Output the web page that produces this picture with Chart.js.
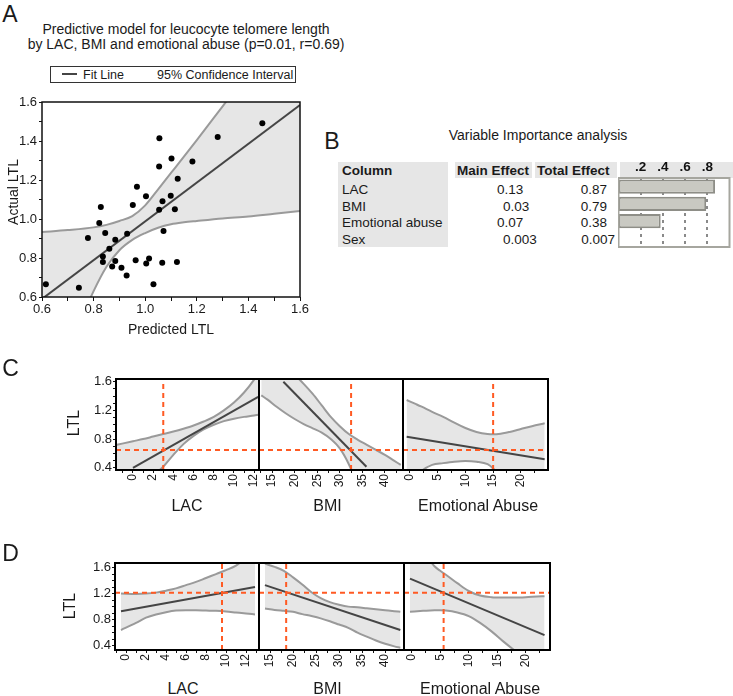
<!DOCTYPE html>
<html>
<head>
<meta charset="utf-8">
<script src="https://cdn.jsdelivr.net/npm/chart.js@4.4.1/dist/chart.umd.min.js"></script>
<style>
body { margin: 0; width: 733px; height: 696px; position: relative; background: #fff; overflow: hidden;
       font-family: "Liberation Sans", Arial, Helvetica, sans-serif; }
canvas { position: absolute; z-index: 1; }
.t { position: absolute; white-space: nowrap; line-height: 1; color: #1a1a1a; z-index: 2; }
.bg { position: absolute; background: #e6e6e6; z-index: 0; }
</style>
</head>
<body>
<script>
// ---- Panel A: predicted vs actual LTL ----
const predicted = [0.615, 0.743, 0.778, 0.822, 0.828, 0.836, 0.836, 0.845, 0.861, 0.872, 0.884, 0.884,
                   0.908, 0.928, 0.930, 0.952, 0.968, 0.963, 1.003, 1.004, 1.015, 1.032, 1.054, 1.055,
                   1.054, 1.067, 1.071, 1.066, 1.102, 1.099, 1.115, 1.126, 1.123, 1.183, 1.281, 1.454];
const actual = [0.665, 0.648, 0.902, 0.979, 1.062, 0.808, 0.780, 0.928, 0.847, 0.757, 0.893, 0.784,
                0.750, 0.710, 0.924, 1.072, 1.166, 0.788, 1.117, 0.772, 0.798, 0.665, 1.269, 1.414,
                1.048, 1.091, 0.938, 0.776, 1.310, 1.119, 1.050, 1.207, 0.780, 1.295, 1.421, 1.491];
const fitX = [0.6, 1.6];
const fitY = [0.59, 1.585];
const bandX = [0.6, 0.7, 0.8, 0.85, 0.9, 0.95, 1.0, 1.05, 1.1, 1.15, 1.2, 1.3, 1.4, 1.5, 1.6];
const bandUpper = [0.933, 0.943, 0.957, 0.97, 0.99, 1.015, 1.07, 1.152, 1.236, 1.32, 1.405, 1.578, 1.75, 1.92, 2.09];
const bandLower = [0.1, 0.33, 0.63, 0.755, 0.84, 0.893, 0.928, 0.955, 0.973, 0.983, 0.99, 1.003, 1.013, 1.027, 1.041];
const aTicks = [0.6, 0.8, 1.0, 1.2, 1.4, 1.6];

// ---- Panel B: variable importance ----
const variables = ['LAC', 'BMI', 'Emotional abuse', 'Sex'];
const mainEffect = ['0.13', '0.03', '0.07', '0.003'];
const totalEffect = [0.87, 0.79, 0.38, 0.007];
const importanceTicks = [0.2, 0.4, 0.6, 0.8];

// ---- Panels C / D: prediction profiler ----
const lacTicks = [0, 2, 4, 6, 8, 10, 12];
const bmiTicks = [15, 20, 25, 30, 35, 40];
const abuseTicks = [0, 5, 10, 15, 20];
const ltlTicks = [0.4, 0.8, 1.2, 1.6];

const cLacX = [-1.6, 0, 1, 2, 3, 4, 5, 6, 7, 8, 9, 10, 11, 12, 12.4];
const cLacUp = [0.72, 0.77, 0.80, 0.835, 0.87, 0.905, 0.945, 0.99, 1.045, 1.11, 1.2, 1.31, 1.45, 1.63, 1.72];
const cLacLo = [-0.1, 0.05, 0.17, 0.29, 0.415, 0.58, 0.73, 0.845, 0.935, 1.0, 1.05, 1.085, 1.11, 1.13, 1.14];
const cLacFitX = [0, 12.4];
const cLacFitY = [0.40, 1.39];

const cBmiX = [12.6, 14, 16, 18, 20, 22, 24, 26, 28, 30, 32, 34, 36, 38, 40, 42, 43.5];
const cBmiUp = [2.3, 2.15, 2.0, 1.85, 1.7, 1.57, 1.43, 1.27, 1.11, 0.98, 0.87, 0.79, 0.72, 0.65, 0.58, 0.5, 0.44];
const cBmiLo = [1.41, 1.35, 1.25, 1.16, 1.08, 1.01, 0.95, 0.89, 0.8, 0.67, 0.45, 0.15, -0.2, -0.5, -0.8, -1.1, -1.3];
const cBmiFitX = [17.5, 35.9];
const cBmiFitY = [1.6, 0.415];

const cAbuseX = [-0.6, 1, 2, 4, 6, 8, 10, 12, 14, 15, 16, 18, 20, 22, 24.3];
const cAbuseUp = [1.345, 1.29, 1.255, 1.18, 1.11, 1.03, 0.955, 0.9, 0.87, 0.866, 0.87, 0.9, 0.94, 0.98, 1.02];
const cAbuseLo = [0.1, 0.27, 0.35, 0.44, 0.465, 0.485, 0.495, 0.485, 0.45, 0.39, 0.3, 0.1, -0.1, -0.3, -0.5];
const cAbuseFitX = [-0.6, 24.3];
const cAbuseFitY = [0.834, 0.52];

const cSettings = [3, 32.5, 15];   // LAC, BMI, emotional abuse
const cPredicted = 0.648;

const dLacX = [-0.5, 1, 2, 3, 4, 5, 6, 7, 8, 9, 10, 11, 12, 12.9];
const dLacUp = [1.2, 1.195, 1.2, 1.215, 1.245, 1.28, 1.33, 1.38, 1.44, 1.5, 1.56, 1.63, 1.75, 1.87];
const dLacLo = [0.64, 0.75, 0.83, 0.88, 0.915, 0.94, 0.946, 0.945, 0.94, 0.935, 0.925, 0.91, 0.895, 0.88];
const dLacFitX = [-0.5, 12.9];
const dLacFitY = [0.93, 1.30];

const dBmiX = [13.9, 16, 18, 20, 22, 24, 26, 28, 30, 32, 34, 36, 38, 40, 42, 43.3];
const dBmiUp = [1.66, 1.61, 1.55, 1.45, 1.34, 1.22, 1.13, 1.07, 1.03, 1.0, 0.99, 0.975, 0.96, 0.945, 0.93, 0.92];
const dBmiLo = [0.97, 0.95, 0.935, 0.92, 0.885, 0.855, 0.82, 0.775, 0.725, 0.675, 0.6, 0.54, 0.48, 0.43, 0.39, 0.37];
const dBmiFitX = [13.9, 43.3];
const dBmiFitY = [1.33, 0.64];

const dAbuseX = [-0.3, 2, 4, 5, 6, 8, 10, 12, 14, 16, 18, 20, 22, 23.3];
const dAbuseUp = [2.1, 1.85, 1.62, 1.55, 1.49, 1.36, 1.24, 1.17, 1.145, 1.14, 1.14, 1.145, 1.155, 1.16];
const dAbuseLo = [0.92, 0.935, 0.945, 0.945, 0.94, 0.91, 0.855, 0.75, 0.62, 0.47, 0.33, 0.2, 0.07, 0.0];
const dAbuseFitX = [-0.3, 23.3];
const dAbuseFitY = [1.43, 0.563];

const dSettings = [9.6, 18.5, 5.6];
const dPredicted = 1.215;

// ---------------------------------------------------------------
Chart.defaults.font.family = '"Liberation Sans", Arial, Helvetica, sans-serif';
Chart.defaults.color = '#1a1a1a';

const ORANGE = '#ff5a23';
const BAND = '#e6e6e6';
const CURVE = '#9a9a9a';
const FIT = '#454545';

const framePlugin = {
    id: 'frame',
    afterDatasetsDraw(chart, args, opts) {
        if (!opts.color) return;
        const { left, top, right, bottom } = chart.chartArea;
        const ctx = chart.ctx;
        ctx.save();
        ctx.strokeStyle = opts.color;
        ctx.lineWidth = opts.width;
        ctx.strokeRect(left, top, right - left, bottom - top);
        ctx.restore();
    }
};

function pts(xs, ys) {
    return xs.map((x, i) => ({ x: x, y: ys[i] }));
}

function stepTicks(min, max, step) {
    const out = [];
    for (let k = Math.ceil(min / step - 1e-9); k * step <= max + 1e-9; k++) {
        out.push(Math.round(k * step * 1000) / 1000);
    }
    return out;
}

function mkCanvas(left, top, w, h) {
    const c = document.createElement('canvas');
    c.width = w;
    c.height = h;
    c.style.left = left + 'px';
    c.style.top = top + 'px';
    document.body.appendChild(c);
    return c.getContext('2d');
}

function text(str, x, y, o = {}) {
    const d = document.createElement('div');
    d.className = 't';
    d.textContent = str;
    d.style.left = x + 'px';
    d.style.top = y + 'px';
    d.style.fontSize = (o.size || 14) + 'px';
    if (o.bold) d.style.fontWeight = 'bold';
    const ax = o.align === 'left' ? '0' : o.align === 'right' ? '-100%' : '-50%';
    d.style.transform = 'translate(' + ax + ',-50%)' + (o.rotate ? ' rotate(-90deg)' : '');
    document.body.appendChild(d);
}

function box(x, y, w, h, css) {
    const d = document.createElement('div');
    d.className = 'bg';
    d.style.left = x + 'px';
    d.style.top = y + 'px';
    d.style.width = w + 'px';
    d.style.height = h + 'px';
    if (css) Object.assign(d.style, css);
    document.body.appendChild(d);
}

function linAxis(min, max, step, major, o) {
    return {
        type: 'linear',
        display: o.display !== false,
        min: min,
        max: max,
        afterBuildTicks: s => { s.ticks = stepTicks(min, max, step).map(v => ({ value: v })); },
        afterFit: s => {
            if (o.size == null) return;
            if (s.isHorizontal()) s.height = o.size; else s.width = o.size;
        },
        ticks: {
            autoSkip: false,
            minRotation: o.rot || 0,
            maxRotation: o.rot || 0,
            padding: o.pad != null ? o.pad : 1,
            color: '#1a1a1a',
            font: { size: o.font || 13 },
            callback: v => {
                const m = major.find(t => Math.abs(t - v) < 1e-6);
                if (m === undefined) return '';
                return o.fmt ? o.fmt(m) : String(m);
            }
        },
        grid: { display: true, drawOnChartArea: false, drawTicks: true, tickLength: o.tick || 4, tickColor: '#111', tickWidth: 1 },
        border: { display: false }
    };
}

// area = chart area in page pixels; yW = y axis width (0 when hidden); xH = x axis height
function makePlot(area, yW, xH, config) {
    const padL = yW ? 0 : 16, padR = 16, padT = 10;
    const ctx = mkCanvas(area.x - padL - yW, area.y - padT, padL + yW + area.w + padR, padT + area.h + xH);
    config.options.layout = { padding: { left: padL, right: padR, top: padT, bottom: 0 } };
    config.plugins = [framePlugin];
    return new Chart(ctx, config);
}

function baseOptions(frameColor, frameWidth) {
    return {
        responsive: false,
        animation: false,
        events: [],
        plugins: {
            legend: { display: false },
            tooltip: { enabled: false },
            frame: { color: frameColor, width: frameWidth }
        }
    };
}

// upper curve carries the band fill and is drawn first (highest order)
function bandSets(xs, up, lo) {
    return [
        { data: pts(xs, up), showLine: true, pointRadius: 0, borderColor: CURVE, borderWidth: 2,
          fill: '+1', backgroundColor: BAND, cubicInterpolationMode: 'monotone', order: 3 },
        { data: pts(xs, lo), showLine: true, pointRadius: 0, borderColor: CURVE, borderWidth: 2,
          cubicInterpolationMode: 'monotone', order: 2 }
    ];
}

const fmt1 = v => v.toFixed(1);

// ---------------- Panel A ----------------
const optsA = baseOptions('#111', 1.5);
optsA.scales = {
    x: linAxis(0.6, 1.6, 0.1, aTicks, { size: 25, fmt: fmt1, pad: 1, tick: 4 }),
    y: linAxis(0.6, 1.6, 0.1, aTicks, { size: 42, fmt: fmt1, pad: 2, tick: 3 })
};
makePlot({ x: 42, y: 102, w: 258, h: 195 }, 42, 25, {
    type: 'scatter',
    data: {
        datasets: [
            { data: pts(predicted, actual), pointRadius: 3, backgroundColor: '#000', borderWidth: 0, order: 0 },
            { data: pts(fitX, fitY), showLine: true, pointRadius: 0, borderColor: FIT, borderWidth: 2, order: 1 }
        ].concat(bandSets(bandX, bandUpper, bandLower))
    },
    options: optsA
});

text('A', 10, 14, { size: 23 });
text('Predictive model for leucocyte telomere length', 186, 29, { size: 14 });
text('by LAC, BMI and emotional abuse (p=0.01, r=0.69)', 186, 44, { size: 14 });
box(50, 66, 244, 15, { background: '#fff', border: '1px solid #333' });
box(62, 73, 15, 2, { background: FIT, zIndex: 2 });
text('Fit Line', 83, 74.5, { size: 12.5, align: 'left' });
text('95% Confidence Interval', 157, 74.5, { size: 12.5, align: 'left' });
text('Actual LTL', 13, 192, { size: 14, rotate: true });
text('Predicted LTL', 171, 329, { size: 14 });

// ---------------- Panel B ----------------
text('B', 332, 141, { size: 23 });
text('Variable Importance analysis', 538, 135, { size: 14 });
box(338, 162, 110, 85);
box(455, 162, 77, 16);
box(535, 162, 82, 16);
box(620, 162, 113, 16);
text('Column', 342, 171, { size: 13.5, bold: true, align: 'left' });
text('Main Effect', 457, 171, { size: 13.5, bold: true, align: 'left' });
text('Total Effect', 537, 171, { size: 13.5, bold: true, align: 'left' });
const mainOffset = [497, 503, 497, 503];
variables.forEach((v, i) => {
    const y = 190 + i * 16.6;
    text(v, 342, y, { size: 13.5, align: 'left' });
    text(mainEffect[i], mainOffset[i], y, { size: 13.5, align: 'left' });
    text(String(totalEffect[i]), i === 3 ? 615 : 607, y, { size: 13.5, align: 'right' });
});

const bctx = mkCanvas(618, 160, 115, 89);
new Chart(bctx, {
    type: 'bar',
    data: {
        labels: variables,
        datasets: [{
            data: totalEffect,
            backgroundColor: '#c9c9c2',
            borderColor: '#8e8e87',
            borderWidth: 2,
            borderSkipped: false,
            barPercentage: 0.82,
            categoryPercentage: 1
        }]
    },
    options: {
        indexAxis: 'y',
        responsive: false,
        animation: false,
        events: [],
        layout: { padding: { left: 0.5, right: 3.5, top: 0, bottom: 2 } },
        plugins: {
            legend: { display: false },
            tooltip: { enabled: false },
            frame: { color: '#a6a69f', width: 2 }
        },
        scales: {
            x: {
                type: 'linear',
                position: 'top',
                min: 0,
                max: 1,
                afterBuildTicks: s => { s.ticks = importanceTicks.map(v => ({ value: v })); },
                afterFit: s => { s.height = 18; },
                ticks: {
                    autoSkip: false,
                    padding: 3,
                    color: '#111',
                    font: { size: 13.5, weight: 'bold' },
                    callback: v => String(v).replace(/^0/, '')
                },
                grid: { display: true, drawOnChartArea: true, drawTicks: false, color: '#8a8a8a', lineWidth: 2 },
                border: { display: false, dash: [3, 4] }
            },
            y: { display: false }
        }
    },
    plugins: [framePlugin]
});

// ---------------- Panels C / D ----------------
function profile(area, xr, step, major, yr, curve, setting, pred, showY) {
    const opts = baseOptions('#000', 2);
    opts.scales = {
        x: linAxis(xr[0], xr[1], step, major, { size: 28, rot: 90, font: 12, pad: 1, tick: 3 }),
        y: showY ? linAxis(yr[0], yr[1], 0.1, ltlTicks, { size: 50, fmt: fmt1, pad: 1, tick: 3 })
                 : { type: 'linear', display: false, min: yr[0], max: yr[1] }
    };
    const dash = { showLine: true, pointRadius: 0, borderColor: ORANGE, borderWidth: 2, borderDash: [5, 4], order: 0 };
    return makePlot(area, showY ? 50 : 0, 28, {
        type: 'scatter',
        data: {
            datasets: [
                Object.assign({ data: [{ x: setting, y: yr[0] }, { x: setting, y: yr[1] }] }, dash),
                Object.assign({ data: [{ x: xr[0], y: pred }, { x: xr[1], y: pred }] }, dash),
                { data: pts(curve[3], curve[4]), showLine: true, pointRadius: 0, borderColor: FIT, borderWidth: 2, order: 1 }
            ].concat(bandSets(curve[0], curve[1], curve[2]))
        },
        options: opts
    });
}

// C
const cY = [0.369, 1.638];
profile({ x: 116, y: 379, w: 143, h: 91 }, [-1.68, 12.48], 1, lacTicks, cY,
        [cLacX, cLacUp, cLacLo, cLacFitX, cLacFitY], cSettings[0], cPredicted, true);
profile({ x: 259, y: 379, w: 144, h: 91 }, [12.1, 44.0], 2.5, bmiTicks, cY,
        [cBmiX, cBmiUp, cBmiLo, cBmiFitX, cBmiFitY], cSettings[1], cPredicted, false);
profile({ x: 403, y: 379, w: 145, h: 91 }, [-1.26, 24.9], 2.5, abuseTicks, cY,
        [cAbuseX, cAbuseUp, cAbuseLo, cAbuseFitX, cAbuseFitY], cSettings[2], cPredicted, false);

text('C', 10.5, 368, { size: 23 });
text('LTL', 74, 423, { size: 16, rotate: true });
text('LAC', 187, 506, { size: 16 });
text('BMI', 327.5, 506, { size: 16 });
text('Emotional Abuse', 478, 506, { size: 16 });

// D
const dY = [0.334, 1.67];
profile({ x: 115, y: 563, w: 144, h: 87 }, [-1.1, 13.3], 1, lacTicks, dY,
        [dLacX, dLacUp, dLacLo, dLacFitX, dLacFitY], dSettings[0], dPredicted, true);
profile({ x: 259, y: 563, w: 145, h: 87 }, [12.6, 44.1], 2.5, bmiTicks, dY,
        [dBmiX, dBmiUp, dBmiLo, dBmiFitX, dBmiFitY], dSettings[1], dPredicted, false);
profile({ x: 404, y: 563, w: 146, h: 87 }, [-1.35, 24.26], 2.5, abuseTicks, dY,
        [dAbuseX, dAbuseUp, dAbuseLo, dAbuseFitX, dAbuseFitY], dSettings[2], dPredicted, false);

text('D', 10.5, 553, { size: 23 });
text('LTL', 70, 606, { size: 16, rotate: true });
text('LAC', 183, 689, { size: 16 });
text('BMI', 327.5, 689, { size: 16 });
text('Emotional Abuse', 480, 689, { size: 16 });
</script>
</body>
</html>
